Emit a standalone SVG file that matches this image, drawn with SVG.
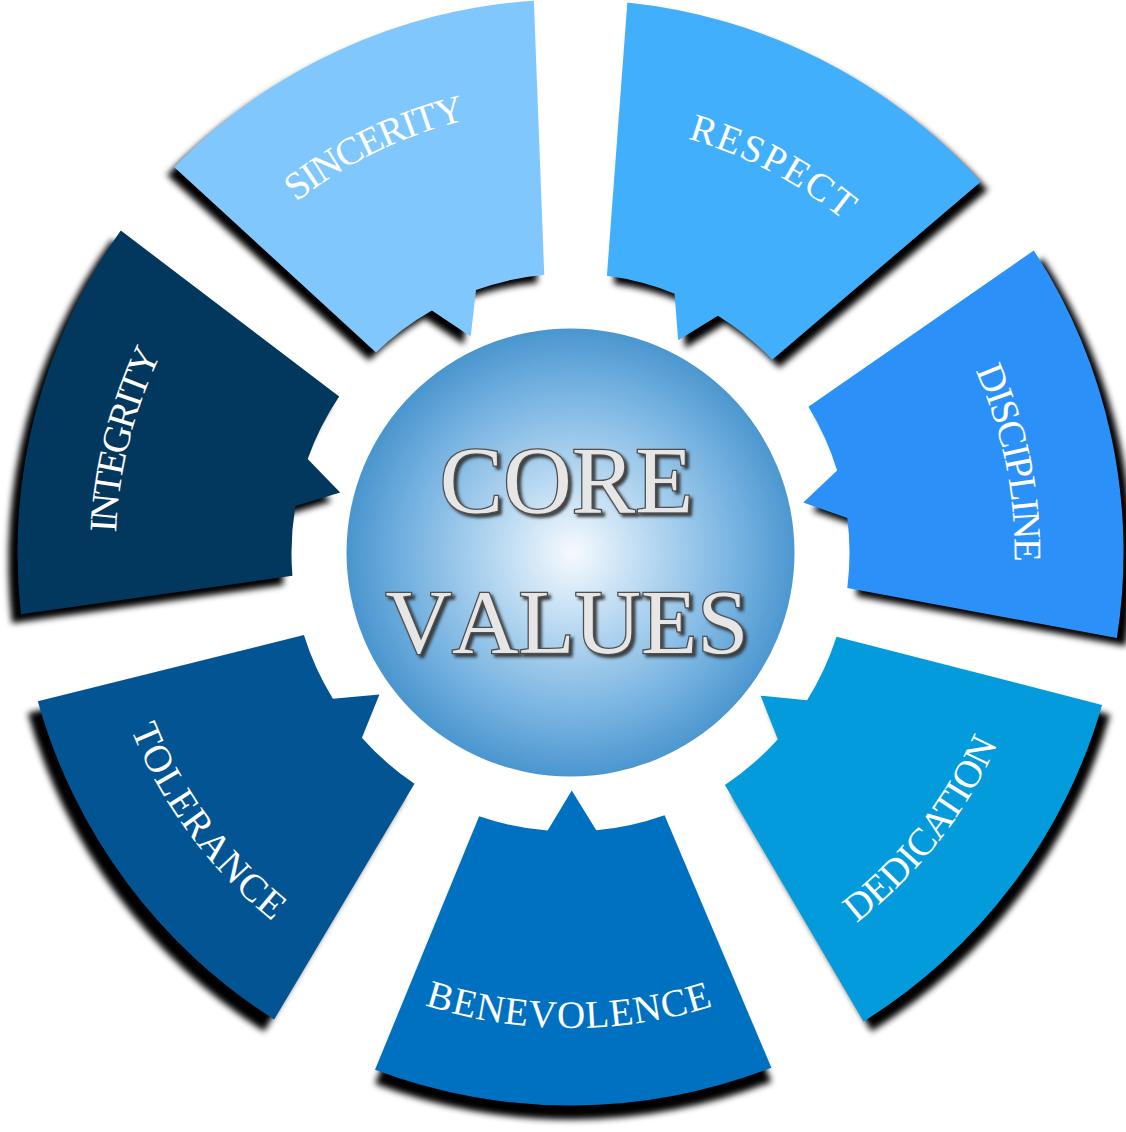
<svg xmlns="http://www.w3.org/2000/svg" width="1126" height="1132" viewBox="0 0 1126 1132">
<defs>
<style>
.shadow{fill:#000;filter:url(#blur)}
.lbl{font-family:"Liberation Serif","Times New Roman",serif;font-size:39px;fill:#fff}
.core{font-family:"Liberation Serif","Times New Roman",serif;font-kerning:none;text-anchor:middle;fill:#e6e6e6;stroke:#4f4f4f;stroke-width:2.6;paint-order:stroke;filter:url(#tshadow)}
</style>
<filter id="blur" x="-20%" y="-20%" width="140%" height="140%"><feGaussianBlur stdDeviation="3"/></filter>
<filter id="tshadow" x="-10%" y="-20%" width="125%" height="150%">
<feGaussianBlur in="SourceAlpha" stdDeviation="1.4" result="b"/>
<feOffset in="b" dx="3" dy="3" result="o"/>
<feFlood flood-color="#303030" flood-opacity="0.9"/>
<feComposite in2="o" operator="in" result="s"/>
<feMerge><feMergeNode in="s"/><feMergeNode in="SourceGraphic"/></feMerge>
</filter>
<radialGradient id="sphere" cx="573" cy="553" r="224" gradientUnits="userSpaceOnUse">
<stop offset="0" stop-color="#f6fafe"/>
<stop offset="0.35" stop-color="#b7d8f1"/>
<stop offset="0.75" stop-color="#74b1e0"/>
<stop offset="1" stop-color="#4b96cf"/>
</radialGradient>
<path id="seg" d="M516.3,-198.2 A553,553 0 0 1 516.3,198.2 L263.2,92.7 A279,279 0 0 0 277.9,24.3 L238,0 L277.9,-24.3 A279,279 0 0 0 263.2,-92.7 Z"/>
<path id="arcInt" d="M348.55,-292.47 A455,455 0 0 1 348.55,292.47"/>
<path id="arcSin" d="M340.89,-286.04 A445,445 0 0 1 340.89,286.04"/>
<path id="arcRes" d="M329.40,-276.40 A430,430 0 0 1 329.40,276.40"/>
<path id="arcDis" d="M340.12,-285.40 A444,444 0 0 1 340.12,285.40"/>
<path id="arcDed" d="M358.51,300.83 A468,468 0 0 0 358.51,-300.83"/>
<path id="arcBen" d="M364.25,305.65 A475.5,475.5 0 0 0 364.25,-305.65"/>
<path id="arcTol" d="M363.10,304.68 A474,474 0 0 0 363.10,-304.68"/>
</defs>
<rect width="1126" height="1132" fill="#fff"/>

<g id="seg-sincerity">
<use href="#seg" class="shadow" transform="translate(563.5,560.5) rotate(245.2)"/>
<use href="#seg" fill="#80c7fd" transform="translate(570.5,552.5) rotate(245.2)"/>
<text class="lbl" transform="translate(570.5,552.5) rotate(244.2)"><textPath href="#arcSin" startOffset="50%" text-anchor="middle" textLength="190" lengthAdjust="spacing">SINCERITY</textPath></text>
</g>

<g id="seg-respect">
<use href="#seg" class="shadow" transform="translate(577.5,560.5) rotate(296.9)"/>
<use href="#seg" fill="#42affd" transform="translate(570.5,552.5) rotate(296.9)"/>
<text class="lbl" transform="translate(570.5,552.5) rotate(297.6)"><textPath href="#arcRes" startOffset="50%" text-anchor="middle" textLength="177" lengthAdjust="spacing">RESPECT</textPath></text>
</g>

<g id="seg-discipline">
<use href="#seg" class="shadow" transform="translate(579.5,560.5) rotate(347.9)"/>
<use href="#seg" fill="#2b91f9" transform="translate(570.5,552.5) rotate(347.9)"/>
<text class="lbl" transform="translate(570.5,552.5) rotate(348.5)"><textPath href="#arcDis" startOffset="50%" text-anchor="middle" textLength="197" lengthAdjust="spacing">DISCIPLINE</textPath></text>
</g>

<g id="seg-dedication">
<use href="#seg" class="shadow" transform="translate(578.5,562.5) rotate(37)"/>
<use href="#seg" fill="#039bdc" transform="translate(570.5,552.5) rotate(37)"/>
<text class="lbl" transform="translate(570.5,552.5) rotate(38.2)"><textPath href="#arcDed" startOffset="50%" text-anchor="middle" textLength="231" lengthAdjust="spacing">DEDICATION</textPath></text>
</g>

<g id="seg-benevolence">
<use href="#seg" class="shadow" transform="translate(570.5,566.5) rotate(89.7)"/>
<use href="#seg" fill="#0070c1" transform="translate(570.5,552.5) rotate(89.7)"/>
<text class="lbl" transform="translate(570.5,552.5) rotate(90.2)"><textPath href="#arcBen" startOffset="50%" text-anchor="middle" textLength="293" lengthAdjust="spacing">BENEVOLENCE</textPath></text>
</g>

<g id="seg-tolerance">
<use href="#seg" class="shadow" transform="translate(560.5,564.5) rotate(143.4)"/>
<use href="#seg" fill="#035493" transform="translate(570.5,552.5) rotate(143.4)"/>
<text class="lbl" transform="translate(570.5,552.5) rotate(143.5)"><textPath href="#arcTol" startOffset="50%" text-anchor="middle" textLength="241" lengthAdjust="spacing">TOLERANCE</textPath></text>
</g>

<g id="seg-integrity">
<use href="#seg" class="shadow" transform="translate(561.5,561.5) rotate(194.6)"/>
<use href="#seg" fill="#02375e" transform="translate(570.5,552.5) rotate(194.6)"/>
<text class="lbl" transform="translate(570.5,552.5) rotate(194.2)"><textPath href="#arcInt" startOffset="50%" text-anchor="middle" textLength="186" lengthAdjust="spacing">INTEGRITY</textPath></text>
</g>

<g id="center">
<circle cx="570.5" cy="552.5" r="224" fill="url(#sphere)"/>
<text class="core" x="566.5" y="513" font-size="95">CORE</text>
<text class="core" x="567" y="653" font-size="92">VALUES</text>
</g>
</svg>
